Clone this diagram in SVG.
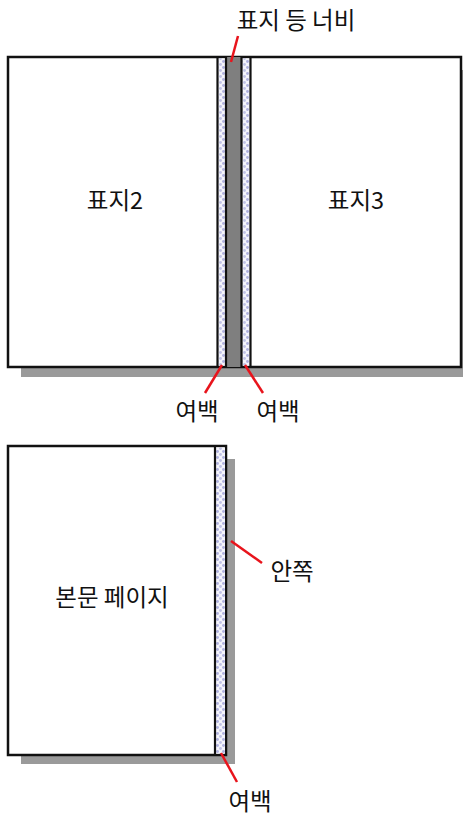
<svg xmlns="http://www.w3.org/2000/svg" width="463" height="816" viewBox="0 0 463 816">
<style>
.t{font-family:"Noto Sans CJK KR","Noto Sans",sans-serif;font-size:23.5px;fill:#111;text-anchor:middle}
.b{fill:#fff;stroke:#111;stroke-width:2.5}
.v{stroke:#111;stroke-width:2.2}
.sh{fill:#9a9a9a}
.r{stroke:#e8141c;stroke-width:2.5;fill:none}
</style>
<defs>
<pattern id="dots" width="6" height="6" patternUnits="userSpaceOnUse">
<rect width="6" height="6" fill="#f4f4fb"/>
<circle cx="1.5" cy="1.5" r="1.4" fill="#aeb0de"/>
<circle cx="4.5" cy="4.5" r="1.4" fill="#c0c2e6"/>
</pattern>
</defs>
<g id="cover">
<rect class="sh" x="21" y="70" width="450" height="307"/>
<rect class="b" x="8" y="57" width="453" height="310"/>
<rect x="226" y="57" width="15.5" height="310" fill="#7f7f7f"/>
<rect x="218.5" y="58.5" width="6.5" height="307" fill="url(#dots)"/>
<rect x="242.5" y="58.5" width="7" height="307" fill="url(#dots)"/>
<line class="v" x1="217.5" y1="57" x2="217.5" y2="367"/>
<line class="v" x1="226" y1="57" x2="226" y2="367"/>
<line class="v" x1="241.5" y1="57" x2="241.5" y2="367"/>
<line class="v" x1="250.5" y1="57" x2="250.5" y2="367"/>
<text class="t" x="115" y="209">표지2</text>
<text class="t" x="356" y="209">표지3</text>
</g>
<g id="page">
<rect class="sh" x="21" y="459" width="214" height="305"/>
<rect class="b" x="8" y="446" width="218" height="309"/>
<rect x="216" y="447.5" width="9" height="306" fill="url(#dots)"/>
<line class="v" x1="215" y1="446" x2="215" y2="755"/>
<text class="t" x="112" y="606">본문 페이지</text>
</g>
<g id="connectors">
<line class="r" x1="238" y1="36" x2="231" y2="62"/>
<line class="r" x1="222" y1="365" x2="205" y2="393"/>
<line class="r" x1="245" y1="365" x2="263" y2="393"/>
<line class="r" x1="231" y1="541" x2="262" y2="563"/>
<line class="r" x1="221" y1="753" x2="237" y2="782"/>
</g>
<g id="labels">
<text class="t" x="296" y="29">표지 등 너비</text>
<text class="t" x="197" y="420">여백</text>
<text class="t" x="278" y="420">여백</text>
<text class="t" x="292" y="580">안쪽</text>
<text class="t" x="250" y="810">여백</text>
</g>
</svg>
